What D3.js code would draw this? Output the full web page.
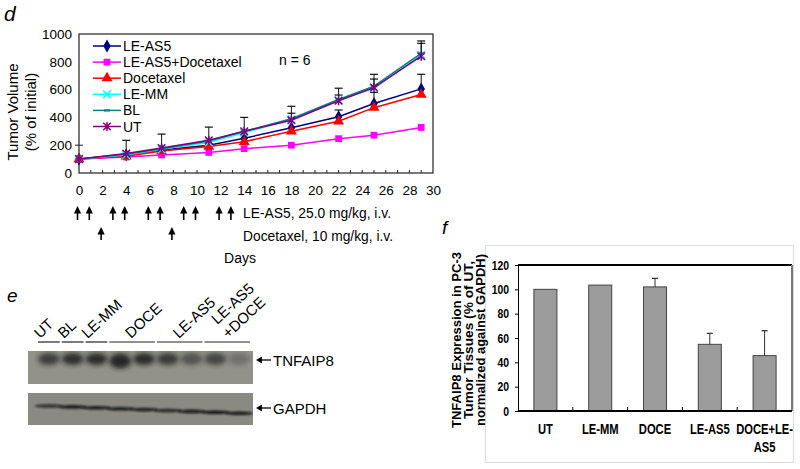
<!DOCTYPE html>
<html><head><meta charset="utf-8">
<script src="https://cdn.jsdelivr.net/npm/d3@7"></script>
<style>
body{margin:0;background:#fff;}
svg{display:block;font-family:Arial,"Liberation Sans",sans-serif;}
</style></head>
<body><svg id="c" width="800" height="469"></svg>
<script>
// ---------- Panel d data ----------
const days = [0, 4, 7, 11, 14, 18, 22, 25, 29];
const seriesNames = ["LE-AS5", "LE-AS5+Docetaxel", "Docetaxel", "LE-MM", "BL", "UT"];
const vLEAS5 = [100, 130, 165, 200, 250, 325, 405, 500, 605];
const vCombo = [100, 115, 130, 148, 175, 200, 247, 272, 328];
const vDoce  = [100, 120, 158, 190, 225, 300, 372, 470, 565];
const vLEMM  = [100, 130, 170, 222, 290, 385, 525, 610, 850];
const vBL    = [100, 135, 175, 230, 300, 390, 530, 625, 860];
const vUT    = [100, 140, 180, 235, 300, 380, 520, 615, 840];
const errLEAS5 = [0, 0, 0, 0, 0, 0, 48, 80, 105];
const errBL    = [0, 0, 0, 0, 0, 40, 31, 51, 73];
const errUT    = [0, 95, 100, 95, 100, 100, 90, 95, 110];
const yTicksD = [0, 200, 400, 600, 800, 1000];
const xTicksD = d3.range(0, 31, 2);
const leAs5DoseDays = [0, 1, 3, 4, 6, 7, 9, 10, 12, 13];
const doceDoseDays = [2, 8];

// ---------- Panel e data ----------
const blotGroups = ["UT", "BL", "LE-MM", "DOCE", "LE-AS5", "LE-AS5|+DOCE"];
const blotGroupLanes = [1, 1, 1, 2, 2, 2];
const tnfaip8Intensity = [0.72, 0.85, 0.88, 0.92, 0.88, 0.76, 0.54, 0.66, 0.28];
const gapdhIntensity = [0.75, 0.9, 0.9, 0.9, 0.85, 0.8, 0.88, 0.95, 0.9];

// ---------- Panel f data ----------
const fCats = ["UT", "LE-MM", "DOCE", "LE-AS5", "DOCE+LE-|AS5"];
const fVals = [100, 103.5, 102, 54.8, 45.5];
const fErrs = [0, 0, 7, 9, 20.5];
const fTicks = [0, 20, 40, 60, 80, 100, 120];

const svg = d3.select("#c");

// ================= PANEL d =================
const xD = d3.scaleLinear().domain([0, 30]).range([79, 433]);
const yD = d3.scaleLinear().domain([0, 1000]).range([173, 34]);

svg.append("text").attr("x", 4).attr("y", 21).attr("font-size", 21)
  .attr("font-style", "italic").text("d");

const gD = svg.append("g");
const yAx = d3.axisLeft(yD).tickValues(yTicksD).tickFormat(d3.format("d")).tickSize(0).tickPadding(7);
gD.append("g").attr("transform", `translate(79,0)`).call(yAx)
  .call(g => g.select(".domain").remove())
  .selectAll("text").attr("font-size", 13.5).attr("font-family", "Arial,Liberation Sans").attr("fill", "#000");
const xAx = d3.axisBottom(xD).tickValues(xTicksD).tickSize(0).tickPadding(12);
gD.append("g").attr("transform", `translate(0,173)`).call(xAx)
  .call(g => g.select(".domain").remove())
  .selectAll("text").attr("font-size", 13.5).attr("font-family", "Arial,Liberation Sans").attr("fill", "#000");
gD.append("g").selectAll("line").data(d3.range(1, 30)).join("line")
  .attr("x1", d => xD(d)).attr("x2", d => xD(d)).attr("y1", 173).attr("y2", 170)
  .attr("stroke", "#222");
gD.append("line").attr("x1", 75).attr("x2", 83).attr("y1", yD(200)).attr("y2", yD(200)).attr("stroke", "#222");
gD.append("rect").attr("x", 79).attr("y", 34).attr("width", 354).attr("height", 139)
  .attr("fill", "none").attr("stroke", "#222").attr("stroke-width", 1.2);
gD.append("text").attr("transform", "translate(18,112) rotate(-90)").attr("text-anchor", "middle")
  .attr("font-size", 15).text("Tumor Volume");
gD.append("text").attr("transform", "translate(36,112) rotate(-90)").attr("text-anchor", "middle")
  .attr("font-size", 15).text("(% of initial)");

const seriesDefs = [
  {name: seriesNames[0], vals: vLEAS5, err: errLEAS5, color: "#000080", mk: "diamond"},
  {name: seriesNames[1], vals: vCombo, err: null, color: "#FF00FF", mk: "square"},
  {name: seriesNames[2], vals: vDoce, err: null, color: "#FF0000", mk: "triangle"},
  {name: seriesNames[3], vals: vLEMM, err: null, color: "#00FFFF", mk: "x"},
  {name: seriesNames[4], vals: vBL, err: errBL, color: "#008080", mk: "dash"},
  {name: seriesNames[5], vals: vUT, err: errUT, color: "#800080", mk: "star"}
];

function drawMarker(g, type, color) {
  if (type === "diamond") g.append("path").attr("d", d3.symbol(d3.symbolDiamond, 48)()).attr("fill", color);
  else if (type === "square") g.append("path").attr("d", d3.symbol(d3.symbolSquare, 46)()).attr("fill", color);
  else if (type === "triangle") g.append("path").attr("d", d3.symbol(d3.symbolTriangle, 52)()).attr("fill", color);
  else if (type === "x") g.append("path").attr("d", "M-3.8,-3.8L3.8,3.8M-3.8,3.8L3.8,-3.8").attr("stroke", color).attr("stroke-width", 1.6).attr("fill", "none");
  else if (type === "dash") g.append("path").attr("d", "M-3,0L3,0").attr("stroke", color).attr("stroke-width", 2.2);
  else if (type === "star") g.append("path").attr("d", "M-3.8,-3.8L3.8,3.8M-3.8,3.8L3.8,-3.8M0,-4.5L0,4.5").attr("stroke", color).attr("stroke-width", 1.5).attr("fill", "none");
}

const line = d3.line().x((d, i) => xD(days[i])).y(d => yD(d));
const gErr = gD.append("g");
seriesDefs.forEach(s => {
  if (!s.err) return;
  s.err.forEach((e, i) => {
    if (!e) return;
    const x = xD(days[i]), y0 = yD(s.vals[i]), y1 = yD(s.vals[i] + e);
    gErr.append("line").attr("x1", x).attr("x2", x).attr("y1", y0).attr("y2", y1).attr("stroke", "#111").attr("stroke-width", 1);
    gErr.append("line").attr("x1", x - 4).attr("x2", x + 4).attr("y1", y1).attr("y2", y1).attr("stroke", "#111").attr("stroke-width", 1.2);
  });
});
seriesDefs.forEach(s => {
  gD.append("path").attr("d", line(s.vals)).attr("fill", "none").attr("stroke", s.color).attr("stroke-width", 1.5);
  s.vals.forEach((v, i) => {
    const g = gD.append("g").attr("transform", `translate(${xD(days[i])},${yD(v)})`);
    drawMarker(g, s.mk, s.color);
  });
});
seriesDefs.forEach((s, i) => {
  const y = 46 + i * 16.1;
  const g = gD.append("g");
  g.append("line").attr("x1", 93).attr("x2", 121).attr("y1", y).attr("y2", y).attr("stroke", s.color).attr("stroke-width", 1.5);
  drawMarker(g.append("g").attr("transform", `translate(107,${y})`), s.mk, s.color);
  g.append("text").attr("x", 123).attr("y", y + 5).attr("font-size", 14).text(s.name);
});
gD.append("text").attr("x", 279).attr("y", 65).attr("font-size", 14).text("n = 6");

function arrow(x, yTop, yBot) {
  gD.append("line").attr("x1", x).attr("x2", x).attr("y1", yTop + 5).attr("y2", yBot).attr("stroke", "#000").attr("stroke-width", 1.6);
  gD.append("path").attr("d", `M${x},${yTop}L${x - 3.6},${yTop + 7.5}L${x + 3.6},${yTop + 7.5}Z`).attr("fill", "#000");
}
leAs5DoseDays.forEach(d => arrow(xD(d) - 1.5, 206, 220));
doceDoseDays.forEach(d => arrow(xD(d) - 1.5, 227, 240));
gD.append("text").attr("x", 243).attr("y", 218).attr("font-size", 14)
  .attr("textLength", 148).attr("lengthAdjust", "spacingAndGlyphs").text("LE-AS5, 25.0 mg/kg, i.v.");
gD.append("text").attr("x", 243).attr("y", 241).attr("font-size", 14)
  .attr("textLength", 150).attr("lengthAdjust", "spacingAndGlyphs").text("Docetaxel, 10 mg/kg, i.v.");
gD.append("text").attr("x", 240).attr("y", 263).attr("font-size", 14).attr("text-anchor", "middle").text("Days");

// ================= PANEL e =================
svg.append("text").attr("x", 7).attr("y", 302).attr("font-size", 19).attr("font-style", "italic").text("e");
const defs = svg.append("defs");
defs.append("filter").attr("id", "blur1").attr("x", "-50%").attr("y", "-50%").attr("width", "200%").attr("height", "200%")
  .append("feGaussianBlur").attr("stdDeviation", 2.6);
defs.append("filter").attr("id", "blur2").attr("x", "-50%").attr("y", "-100%").attr("width", "200%").attr("height", "300%")
  .append("feGaussianBlur").attr("stdDeviation", 1.0);
defs.append("clipPath").attr("id", "clipTop").append("rect").attr("x", 28).attr("y", 351).attr("width", 225).attr("height", 33);
defs.append("clipPath").attr("id", "clipBot").append("rect").attr("x", 28).attr("y", 393).attr("width", 225).attr("height", 32);

const nLanes = tnfaip8Intensity.length;
const lane = d3.scaleBand().domain(d3.range(nLanes)).range([37, 251]);
svg.append("rect").attr("x", 28).attr("y", 351).attr("width", 225).attr("height", 33).attr("fill", "#92928a");
svg.append("rect").attr("x", 28).attr("y", 393).attr("width", 225).attr("height", 32).attr("fill", "#8a8a82");
const gTop = svg.append("g").attr("clip-path", "url(#clipTop)");
tnfaip8Intensity.forEach((v, i) => {
  const cx = lane(i) + lane.bandwidth() / 2;
  gTop.append("ellipse").attr("cx", cx).attr("cy", i === 3 ? 361 : 359)
    .attr("rx", 11).attr("ry", i === 3 ? 7.5 : 6)
    .attr("fill", "#1e1e1a").attr("opacity", v).attr("filter", "url(#blur1)");
});
const gBot = svg.append("g").attr("clip-path", "url(#clipBot)");
gapdhIntensity.forEach((v, i) => {
  const cx = lane(i) + lane.bandwidth() / 2;
  gBot.append("ellipse").attr("cx", cx).attr("cy", 406 + i * 0.9)
    .attr("rx", 14).attr("ry", 1.8)
    .attr("fill", "#0e0e0c").attr("opacity", v).attr("filter", "url(#blur2)");
});
let laneIdx = 0;
blotGroups.forEach((gname, gi) => {
  const n = blotGroupLanes[gi];
  const x0 = lane(laneIdx) + 1, x1 = lane(laneIdx + n - 1) + lane.bandwidth() - 1;
  svg.append("line").attr("x1", x0).attr("x2", x1).attr("y1", 342).attr("y2", 342).attr("stroke", "#222").attr("stroke-width", 1.2);
  const cx = (x0 + x1) / 2;
  const parts = gname.split("|");
  const ax = cx - 9 + (n - 1) * 8;
  if (parts.length === 1) {
    svg.append("text").attr("transform", `translate(${ax},339) rotate(-43)`).attr("font-size", 15).text(parts[0]);
  } else {
    svg.append("text").attr("transform", `translate(${ax - 9},325) rotate(-43)`).attr("font-size", 15).text(parts[0]);
    svg.append("text").attr("transform", `translate(${ax + 2},339) rotate(-43)`).attr("font-size", 15).text(parts[1]);
  }
  laneIdx += n;
});
function blotArrow(y, label) {
  svg.append("line").attr("x1", 258).attr("x2", 271).attr("y1", y).attr("y2", y).attr("stroke", "#000").attr("stroke-width", 1.3);
  svg.append("path").attr("d", `M256,${y}L262,${y - 3.5}L262,${y + 3.5}Z`).attr("fill", "#000");
  svg.append("text").attr("x", 273).attr("y", y + 5.5).attr("font-size", 15).text(label);
}
blotArrow(360, "TNFAIP8");
blotArrow(408, "GAPDH");

// ================= PANEL f =================
svg.append("text").attr("x", 442).attr("y", 234).attr("font-size", 19).attr("font-style", "italic").text("f");
svg.append("rect").attr("x", 485.5).attr("y", 245.5).attr("width", 308).attr("height", 217).attr("fill", "none").attr("stroke", "#dcdcdc");
const xF = d3.scaleBand().domain(fCats).range([518, 792]).paddingInner(0.58).paddingOuter(0.29);
const yF = d3.scaleLinear().domain([0, 120]).range([411, 265]);
const gF = svg.append("g");
const narrow = 0.8;
const yAxF = gF.append("g").attr("transform", "translate(518,0)")
  .call(d3.axisLeft(yF).tickValues(fTicks).tickSize(3).tickPadding(5))
  .call(g => g.selectAll("line,path").attr("stroke", "#000"));
yAxF.selectAll(".tick text").each(function() {
  const t = d3.select(this);
  t.attr("font-size", 13).attr("font-weight", "bold").attr("fill", "#000")
   .attr("font-family", "Arial,Liberation Sans")
   .attr("x", null).attr("transform", `translate(-9,0) scale(${narrow},1)`);
});
gF.selectAll("rect.bar").data(fVals).join("rect").attr("class", "bar")
  .attr("x", (d, i) => xF(fCats[i])).attr("width", xF.bandwidth())
  .attr("y", d => yF(d)).attr("height", d => yF(0) - yF(d))
  .attr("fill", "#9c9c9c").attr("stroke", "#444").attr("stroke-width", 1);
fErrs.forEach((e, i) => {
  if (!e) return;
  const x = xF(fCats[i]) + xF.bandwidth() / 2;
  gF.append("line").attr("x1", x).attr("x2", x).attr("y1", yF(fVals[i])).attr("y2", yF(fVals[i] + e)).attr("stroke", "#333").attr("stroke-width", 1);
  gF.append("line").attr("x1", x - 3).attr("x2", x + 3).attr("y1", yF(fVals[i] + e)).attr("y2", yF(fVals[i] + e)).attr("stroke", "#333").attr("stroke-width", 1.3);
});
gF.append("line").attr("x1", 518).attr("x2", 792).attr("y1", 265).attr("y2", 265).attr("stroke", "#000").attr("stroke-width", 2);
gF.append("line").attr("x1", 792).attr("x2", 792).attr("y1", 265).attr("y2", 411).attr("stroke", "#777").attr("stroke-width", 2);
gF.append("line").attr("x1", 518).attr("x2", 792).attr("y1", 411).attr("y2", 411).attr("stroke", "#000").attr("stroke-width", 2);
fCats.slice(1).forEach(c => {
  const x = xF(c) - xF.step() * xF.paddingInner() / 2;
  gF.append("line").attr("x1", x).attr("x2", x).attr("y1", 411).attr("y2", 407).attr("stroke", "#000");
});
fCats.forEach(c => {
  const parts = c.split("|");
  const x = xF(c) + xF.bandwidth() / 2;
  parts.forEach((p, j) => {
    gF.append("text").attr("transform", `translate(${x},${434 + j * 18}) scale(${narrow},1)`)
      .attr("text-anchor", "middle").attr("font-size", 14).attr("font-weight", "bold").text(p);
  });
});
const fTitle = ["TNFAIP8 Expression in PC-3", "Tumor Tissues (% of UT,", "normalized against GAPDH)"];
fTitle.forEach((t, i) => {
  gF.append("text").attr("transform", `translate(${461 + i * 12.2},340) rotate(-90)`)
    .attr("text-anchor", "middle").attr("font-size", 12.5).attr("font-weight", "bold")
    .attr("textLength", i === 0 ? 176 : (i === 1 ? 158 : 172)).attr("lengthAdjust", "spacingAndGlyphs").text(t);
});
</script></body></html>
